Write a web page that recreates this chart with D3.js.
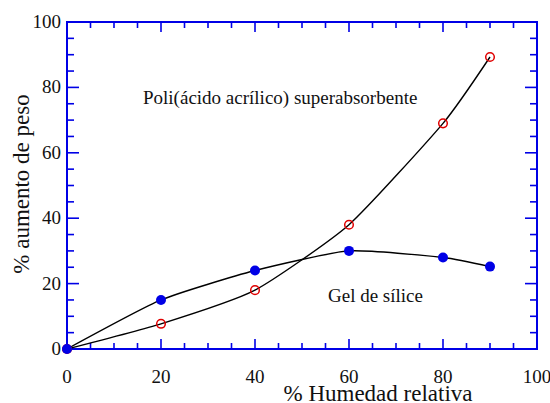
<!DOCTYPE html>
<html>
<head>
<meta charset="utf-8">
<script src="https://cdn.jsdelivr.net/npm/d3@7"></script>
</head>
<body style="margin:0">
<svg id="fig" width="550" height="403"></svg>
<script>
// humedad relativa (%)
var humedad = [0, 20, 40, 60, 80, 90];
// gel de silice, % aumento de peso
var gelSilice = [0, 15, 24, 30, 28, 25.2];
// poli(acido acrilico) superabsorbente
var poliAcrilico = [0, 7.7, 18, 38, 69, 89.3];
var xTicks = [0, 20, 40, 60, 80, 100];
var yTicks = [0, 20, 40, 60, 80, 100];

var svg = d3.select('#fig');
var serif = "'Liberation Serif', 'Times New Roman', Tinos, serif";
var blue = '#0000e6';
var ink = '#111';

var x = d3.scaleLinear().domain([0, 100]).range([67, 537]);
var y = d3.scaleLinear().domain([0, 100]).range([349, 22]);

var minor = d3.range(0, 101, 5);

// frame
svg.append('rect')
  .attr('x', x(0)).attr('y', y(100))
  .attr('width', x(100) - x(0)).attr('height', y(0) - y(100))
  .attr('fill', 'none').attr('stroke', blue).attr('stroke-width', 2);

// ticks, inside on all four sides
var tk = svg.append('g').attr('stroke', blue).attr('stroke-width', 1.6);
minor.forEach(function (v) {
  var big = v % 20 === 0;
  var lx = big ? 10 : 6, ly = big ? 12 : 7;
  tk.append('line').attr('x1', x(v)).attr('x2', x(v)).attr('y1', y(0)).attr('y2', y(0) - lx);
  tk.append('line').attr('x1', x(v)).attr('x2', x(v)).attr('y1', y(100)).attr('y2', y(100) + lx);
  tk.append('line').attr('y1', y(v)).attr('y2', y(v)).attr('x1', x(0)).attr('x2', x(0) + ly);
  tk.append('line').attr('y1', y(v)).attr('y2', y(v)).attr('x1', x(100)).attr('x2', x(100) - ly);
});

// tick labels
svg.selectAll('text.xt').data(xTicks).enter().append('text')
  .attr('class', 'xt')
  .attr('x', function (d) { return x(d); })
  .attr('y', 383)
  .attr('text-anchor', 'middle')
  .attr('font-size', 19)
  .style('font-family', serif)
  .attr('fill', ink)
  .text(function (d) { return d; });

svg.selectAll('text.yt').data(yTicks).enter().append('text')
  .attr('class', 'yt')
  .attr('x', 61)
  .attr('y', function (d) { return y(d) + 6; })
  .attr('text-anchor', 'end')
  .attr('font-size', 19)
  .style('font-family', serif)
  .attr('fill', ink)
  .text(function (d) { return d; });

// axis titles
svg.append('text')
  .attr('x', 378).attr('y', 401)
  .attr('text-anchor', 'middle')
  .attr('font-size', 23)
  .style('font-family', serif)
  .attr('fill', ink)
  .text('% Humedad relativa');

svg.append('text')
  .attr('transform', 'translate(29,184) rotate(-90)')
  .attr('text-anchor', 'middle')
  .attr('font-size', 23)
  .style('font-family', serif)
  .attr('fill', ink)
  .text('% aumento de peso');

// labels inside the plot
svg.append('text').attr('x', 143).attr('y', 104)
  .attr('font-size', 19)
  .style('font-family', serif)
  .attr('fill', ink)
  .text('Poli(ácido acrílico) superabsorbente');
svg.append('text').attr('x', 328).attr('y', 302)
  .attr('font-size', 19)
  .style('font-family', serif)
  .attr('fill', ink)
  .text('Gel de sílice');

// curves
var line = d3.line()
  .x(function (d) { return x(d[0]); })
  .y(function (d) { return y(d[1]); })
  .curve(d3.curveCardinal.tension(0.45));

var gelPts = humedad.map(function (h, i) { return [h, gelSilice[i]]; });
var poliPts = humedad.map(function (h, i) { return [h, poliAcrilico[i]]; });

svg.append('path').datum(gelPts).attr('d', line)
  .attr('fill', 'none').attr('stroke', '#000').attr('stroke-width', 1.4);
svg.append('path').datum(poliPts).attr('d', line)
  .attr('fill', 'none').attr('stroke', '#000').attr('stroke-width', 1.4);

// markers
svg.selectAll('circle.poli').data(poliPts).enter().append('circle')
  .attr('class', 'poli')
  .attr('cx', function (d) { return x(d[0]); })
  .attr('cy', function (d) { return y(d[1]); })
  .attr('r', 4.3)
  .attr('fill', 'none').attr('stroke', '#e00000').attr('stroke-width', 1.5);

svg.selectAll('circle.gel').data(gelPts).enter().append('circle')
  .attr('class', 'gel')
  .attr('cx', function (d) { return x(d[0]); })
  .attr('cy', function (d) { return y(d[1]); })
  .attr('r', 5)
  .attr('fill', blue);
</script>
</body>
</html>
